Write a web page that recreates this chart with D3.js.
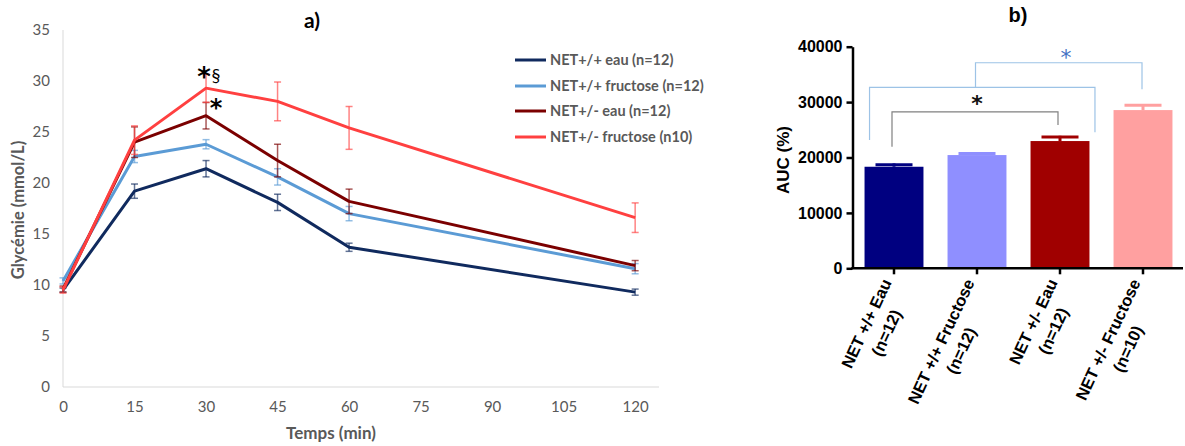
<!DOCTYPE html>
<html>
<head>
<meta charset="utf-8">
<script src="https://cdn.jsdelivr.net/npm/d3@7"></script>
<style>
  body { margin: 0; background: #fff; }
  svg { display: block; }
</style>
</head>
<body>
<svg id="chart" width="1185" height="446"></svg>
<script>
// ---------- Data: panel a) ----------
const times = [0, 15, 30, 45, 60, 120];
const timeTicks = [0, 15, 30, 45, 60, 75, 90, 105, 120];
const glyTicks = [0, 5, 10, 15, 20, 25, 30, 35];
const seriesNames = ["NET+/+ eau (n=12)", "NET+/+ fructose (n=12)", "NET+/- eau (n=12)", "NET+/- fructose (n10)"];
const wtWater      = [9.5, 19.2, 21.4, 18.1, 13.7, 9.3];
const wtWaterErr   = [0.2, 0.7, 0.8, 0.8, 0.4, 0.3];
const wtFructose   = [10.4, 22.6, 23.8, 20.6, 17.0, 11.6];
const wtFructoseErr= [0.3, 0.6, 0.45, 0.8, 0.7, 0.5];
const hetWater     = [9.6, 24.0, 26.6, 22.2, 18.2, 11.9];
const hetWaterErr  = [0.3, 1.5, 1.3, 1.6, 1.2, 0.5];
const hetFructose  = [9.5, 24.2, 29.3, 28.0, 25.4, 16.6];
const hetFructoseErr=[0.3, 1.4, 1.4, 1.9, 2.1, 1.45];

// ---------- Data: panel b) ----------
const groups = [["NET +/+ Eau", "(n=12)"], ["NET +/+ Fructose", "(n=12)"], ["NET +/- Eau", "(n=12)"], ["NET +/- Fructose", "(n=10)"]];
const aucMean = [18330, 20440, 22970, 28560];
const aucErr  = [600, 500, 950, 1080];
const aucTicks = [0, 10000, 20000, 30000, 40000];

const svg = d3.select("#chart");

// ================= Panel a =================
const lineColors = ["#102a5e", "#5b9bd5", "#7b0000", "#ff4040"];
const seriesVals = [wtWater, wtFructose, hetWater, hetFructose];
const seriesErrs = [wtWaterErr, wtFructoseErr, hetWaterErr, hetFructoseErr];

const xA = d3.scaleLinear().domain([0, 125]).range([63, 659]);
const yA = d3.scaleLinear().domain([0, 35]).range([387, 30]);
const fontA = "Lato, 'Open Sans', sans-serif";

const gA = svg.append("g");
gA.append("line").attr("x1", xA(0)).attr("x2", xA(0)).attr("y1", yA(35)).attr("y2", yA(0))
  .attr("stroke", "#d9d9d9").attr("stroke-width", 1);
gA.append("line").attr("x1", xA(0)).attr("x2", xA(125)).attr("y1", yA(0)).attr("y2", yA(0))
  .attr("stroke", "#d9d9d9").attr("stroke-width", 1);

const yAxisA = d3.axisLeft(yA).tickValues(glyTicks).tickSize(0).tickPadding(13);
const gyA = gA.append("g").attr("transform", `translate(${xA(0)},0)`).call(yAxisA);
gyA.select(".domain").remove();
gyA.selectAll("text").attr("font-family", fontA).attr("font-size", 15).attr("fill", "#595959");

const xAxisA = d3.axisBottom(xA).tickValues(timeTicks).tickSize(0).tickPadding(14);
const gxA = gA.append("g").attr("transform", `translate(0,${yA(0)})`).call(xAxisA);
gxA.select(".domain").remove();
gxA.selectAll("text").attr("font-family", fontA).attr("font-size", 15).attr("fill", "#595959");

const lineGen = d3.line().x((d, i) => xA(times[i])).y(d => yA(d));
seriesVals.forEach((vals, s) => {
  const g = gA.append("g");
  g.append("path").datum(vals).attr("d", lineGen).attr("fill", "none")
    .attr("stroke", lineColors[s]).attr("stroke-width", 3).attr("stroke-linejoin", "round");
  const errs = seriesErrs[s];
  vals.forEach((v, i) => {
    const x = xA(times[i]);
    const y1 = yA(v - errs[i]), y2 = yA(v + errs[i]);
    const eg = g.append("g").attr("stroke", lineColors[s]).attr("stroke-opacity", 0.65).attr("stroke-width", 1.5);
    eg.append("line").attr("x1", x).attr("x2", x).attr("y1", y1).attr("y2", y2);
    eg.append("line").attr("x1", x - 3.5).attr("x2", x + 3.5).attr("y1", y1).attr("y2", y1);
    eg.append("line").attr("x1", x - 3.5).attr("x2", x + 3.5).attr("y1", y2).attr("y2", y2);
  });
});

// significance marks
gA.append("text").attr("x", xA(30) - 2).attr("y", yA(hetFructose[2] + hetFructoseErr[2]) + 12)
  .attr("text-anchor", "middle").attr("font-family", "'DejaVu Sans', sans-serif").attr("font-weight", "bold").attr("font-size", 26).attr("fill", "#000").text("*");
gA.append("text").attr("x", xA(30) + 10).attr("y", yA(hetFructose[2] + hetFructoseErr[2]) + 8)
  .attr("text-anchor", "middle").attr("font-family", fontA).attr("font-size", 18).attr("fill", "#000").text("§");
gA.append("text").attr("x", xA(30) + 10).attr("y", yA(hetWater[2] + hetWaterErr[2]) + 14)
  .attr("text-anchor", "middle").attr("font-family", "'DejaVu Sans', sans-serif").attr("font-weight", "bold").attr("font-size", 24).attr("fill", "#000").text("*");

// legend
const legY = [60, 86, 111, 137];
seriesNames.forEach((n, i) => {
  gA.append("line").attr("x1", 515).attr("x2", 546).attr("y1", legY[i]).attr("y2", legY[i])
    .attr("stroke", lineColors[i]).attr("stroke-width", 3);
  gA.append("text").attr("x", 550).attr("y", legY[i]).attr("dy", "0.35em")
    .attr("font-family", fontA).attr("font-weight", "bold").attr("font-size", 14.5).attr("fill", "#595959").text(n);
});

// titles
gA.append("text").attr("x", 312).attr("y", 28).attr("text-anchor", "middle")
  .attr("font-family", fontA).attr("font-weight", "bold").attr("font-size", 21).attr("fill", "#000").text("a)");
gA.append("text").attr("transform", "translate(24,210) rotate(-90)").attr("text-anchor", "middle")
  .attr("font-family", fontA).attr("font-weight", "bold").attr("font-size", 16.5).attr("fill", "#595959").text("Glycémie (mmol/L)");
gA.append("text").attr("x", 331).attr("y", 439).attr("text-anchor", "middle")
  .attr("font-family", fontA).attr("font-weight", "bold").attr("font-size", 17).attr("fill", "#595959").text("Temps (min)");

// ================= Panel b =================
const fontB = "'Liberation Sans', Arial, sans-serif";
const barColors = ["#000080", "#8f8fff", "#a00000", "#ffa0a0"];
const xB = d3.scaleBand().domain(d3.range(groups.length)).range([852.5, 1184.5]).paddingInner(0.29).paddingOuter(0.145);
const yB = d3.scaleLinear().domain([0, 40000]).range([268.3, 46.7]);
const gB = svg.append("g");

groups.forEach((g, i) => {
  gB.append("rect").attr("x", xB(i)).attr("y", yB(aucMean[i])).attr("width", xB.bandwidth())
    .attr("height", yB(0) - yB(aucMean[i])).attr("fill", barColors[i]);
  const cx = xB(i) + xB.bandwidth() / 2;
  const yt = yB(aucMean[i] + aucErr[i]);
  gB.append("line").attr("x1", cx).attr("x2", cx).attr("y1", yB(aucMean[i])).attr("y2", yt)
    .attr("stroke", barColors[i]).attr("stroke-width", 3);
  gB.append("line").attr("x1", cx - 18.5).attr("x2", cx + 18.5).attr("y1", yt + 1.2).attr("y2", yt + 1.2)
    .attr("stroke", barColors[i]).attr("stroke-width", 3);
});

const yAxisB = d3.axisLeft(yB).tickValues(aucTicks).tickFormat(d3.format("d")).tickSize(6).tickPadding(4).tickSizeOuter(0);
const gyB = gB.append("g").attr("transform", `translate(852.5,0)`).call(yAxisB);
gyB.select(".domain").attr("stroke", "#000").attr("stroke-width", 2.5);
gyB.selectAll(".tick line").attr("stroke", "#000").attr("stroke-width", 2.5);
gyB.selectAll("text").attr("font-family", fontB).attr("font-weight", "bold").attr("font-size", 16).attr("fill", "#000");

const xAxisB = d3.axisBottom(xB).tickSize(6).tickSizeOuter(0).tickFormat("");
const gxB = gB.append("g").attr("transform", `translate(0,${yB(0)})`).call(xAxisB);
gxB.select(".domain").attr("stroke", "#000").attr("stroke-width", 2.5).attr("d", `M851.3,0H1183`);
gxB.selectAll(".tick line").attr("stroke", "#000").attr("stroke-width", 2.5);

groups.forEach((lines, i) => {
  const cx = xB(i) + xB.bandwidth() / 2;
  const lg = gB.append("g").attr("transform", `translate(${cx - 2},${yB(0) + 14}) rotate(-65)`);
  const t1 = lg.append("text").attr("font-family", fontB).attr("font-weight", "bold").attr("font-size", 16.5)
    .attr("fill", "#000").attr("text-anchor", "middle").attr("y", 0).text(lines[0]);
  const w = t1.node().getComputedTextLength();
  t1.attr("x", -w / 2);
  lg.append("text").attr("font-family", fontB).attr("font-weight", "bold").attr("font-size", 16.5)
    .attr("fill", "#000").attr("text-anchor", "middle").attr("x", -w / 2).attr("y", 22).text(lines[1]);
});

gB.append("text").attr("transform", "translate(789,160) rotate(-90)").attr("text-anchor", "middle")
  .attr("font-family", fontB).attr("font-weight", "bold").attr("font-size", 17).attr("fill", "#000").text("AUC (%)");
gB.append("text").attr("x", 1018).attr("y", 22).attr("text-anchor", "middle")
  .attr("font-family", fontB).attr("font-weight", "bold").attr("font-size", 20).attr("fill", "#000").text("b)");

const ctr = i => xB(i) + xB.bandwidth() / 2;
function bracket(x1, x2, yTop, yL, yR, color) {
  gB.append("path").attr("d", `M${x1},${yB(yL)}V${yB(yTop)}H${x2}V${yB(yR)}`)
    .attr("fill", "none").attr("stroke", color).attr("stroke-width", 1.2);
}
bracket(ctr(0) - 2, ctr(2) - 2, 28250, 21940, 25860, "#808080");
bracket(xB(0) + 5, xB(2) + xB.bandwidth() + 5.5, 32660, 23150, 24540, "#9dc3e6");
bracket(ctr(1) - 1.5, ctr(3) - 1, 37100, 32660, 32300, "#9dc3e6");
gB.append("text").attr("x", (ctr(0) + ctr(2)) / 2).attr("y", yB(30720) + 13).attr("text-anchor", "middle")
  .attr("font-family", "'DejaVu Sans', sans-serif").attr("font-weight", "bold").attr("font-size", 22).attr("fill", "#111").text("*");
gB.append("text").attr("x", (ctr(1) + ctr(3)) / 2 + 6).attr("y", yB(39000) + 13).attr("text-anchor", "middle")
  .attr("font-family", "'DejaVu Sans', sans-serif").attr("font-size", 22).attr("fill", "#4472c4").text("*");
</script>
</body>
</html>
